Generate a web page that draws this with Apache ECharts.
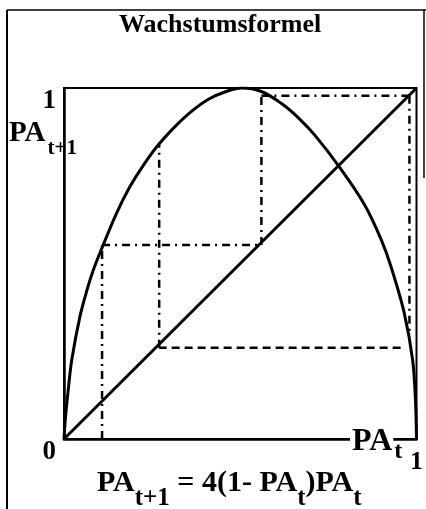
<!DOCTYPE html>
<html>
<head>
<meta charset="utf-8">
<script src="https://cdn.jsdelivr.net/npm/echarts@6/dist/echarts.min.js"></script>
<style>
html,body{margin:0;padding:0;background:#fff;}
#c{width:426px;height:509px;}
</style>
</head>
<body>
<div id="c"></div>
<script>
// ---- data ----
const titleText = 'Wachstumsformel';
const xTicks = [1];
const xTickLabels = ['1'];
const yTicks = [0, 1];
const yTickLabels = ['0', '1'];

// growth curve PA(t+1) vs PA(t)
const curveX = [0, 0.004, 0.012, 0.022, 0.045, 0.068, 0.083, 0.106, 0.148, 0.186, 0.226, 0.266, 0.31, 0.36, 0.41, 0.46, 0.504, 0.56, 0.618, 0.665, 0.712, 0.782, 0.853, 0.899, 0.928, 0.965, 0.989, 0.997, 1.0];
const curveY = [0, 0.06, 0.14, 0.225, 0.348, 0.434, 0.481, 0.54, 0.641, 0.717, 0.781, 0.836, 0.885, 0.932, 0.968, 0.99, 1.0, 0.99, 0.955, 0.915, 0.865, 0.774, 0.667, 0.57, 0.49, 0.36, 0.225, 0.111, 0];

// diagonal PA(t+1) = PA(t)
const diagX = [0, 1];
const diagY = [0, 1];

// cobweb iteration steps
const stepA = [[0.108, 0], [0.108, 0.553]];
const stepB = [[0.108, 0.553], [0.56, 0.553]];
const stepC = [[0.56, 0.553], [0.56, 0.978]];
const stepD = [[0.56, 0.978], [0.98, 0.978]];
const stepE = [[0.98, 0.978], [0.98, 0.30]];
const stepF = [[0.955, 0.26], [0.27, 0.26]];
const stepG = [[0.27, 0.26], [0.27, 0.838]];

// ---- chart ----
const serif = '"Liberation Serif", "Times New Roman", serif';
const chart = echarts.init(document.getElementById('c'), null, {renderer: 'canvas'});

const dashDot = [8, 5, 2, 5];
const dashed = [8, 5];
function seg(pts, dash) {
  return {
    type: 'line', data: pts, symbol: 'none', silent: true,
    lineStyle: {color: '#000', width: 2.5, type: dash}, z: 3
  };
}

const option = {
  animation: false,
  backgroundColor: '#fff',
  title: {
    text: titleText, left: 119, top: 12, padding: 0,
    textStyle: {fontFamily: serif, fontWeight: 'bold', fontSize: 26, color: '#000'}
  },
  grid: {left: 64, top: 88, width: 355, height: 351, show: true, borderColor: '#000', borderWidth: 2, backgroundColor: 'transparent'},
  xAxis: {
    type: 'value', min: 0, max: 1, interval: 1,
    axisLine: {show: true, lineStyle: {color: '#000', width: 2.5}},
    axisTick: {show: false}, splitLine: {show: false},
    axisLabel: {
      showMinLabel: true, showMaxLabel: true, margin: 10,
      fontFamily: serif, fontWeight: 'bold', fontSize: 26, color: '#000',
      formatter: v => { const i = xTicks.indexOf(v); return i >= 0 ? xTickLabels[i] : ''; }
    }
  },
  yAxis: {
    type: 'value', min: 0, max: 1, interval: 1,
    axisLine: {show: true, lineStyle: {color: '#000', width: 2.5}},
    axisTick: {show: false}, splitLine: {show: false},
    axisLabel: {
      showMinLabel: true, showMaxLabel: true, margin: 8, verticalAlign: 'top',
      fontFamily: serif, fontWeight: 'bold', fontSize: 27, color: '#000',
      formatter: v => { const i = yTicks.indexOf(v); return i >= 0 ? yTickLabels[i] : ''; }
    }
  },
  series: [
    {
      type: 'line', data: curveX.map((x, i) => [x, curveY[i]]), symbol: 'none',
      smooth: 0.35, lineStyle: {color: '#000', width: 3}, z: 4
    },
    {
      type: 'line', data: diagX.map((x, i) => [x, diagY[i]]), symbol: 'none',
      lineStyle: {color: '#000', width: 3}, z: 4
    },
    seg(stepA, dashDot),
    seg(stepB, dashDot),
    seg(stepC, dashDot),
    seg(stepD, dashDot),
    seg(stepE, dashDot),
    seg(stepF, dashed),
    seg(stepG, dashDot)
  ],
  graphic: [
    // outer frame
    {type: 'line', shape: {x1: 7, y1: 10, x2: 426, y2: 10}, style: {stroke: '#000', lineWidth: 1.5}, z: 50},
    {type: 'line', shape: {x1: 7, y1: 10, x2: 7, y2: 509}, style: {stroke: '#000', lineWidth: 2}, z: 50},
    {type: 'line', shape: {x1: 424, y1: 10, x2: 424, y2: 178}, style: {stroke: '#000', lineWidth: 1.5}, z: 50},
    // y axis name PA_{t+1}
    {
      type: 'text', x: 9, y: 119, z: 100,
      style: {
        text: '{a|PA}{s|t+1}', fill: '#000',
        rich: {
          a: {fontFamily: serif, fontWeight: 'bold', fontSize: 29, lineHeight: 29, verticalAlign: 'top'},
          s: {fontFamily: serif, fontWeight: 'bold', fontSize: 21, lineHeight: 21, verticalAlign: 'top', padding: [19, 0, 0, 2]}
        }
      }
    },
    // x axis name PA_t
    {
      type: 'text', x: 350, y: 426, z: 100,
      style: {
        text: '{a|PA}{s|t}', fill: '#000',
        rich: {
          a: {fontFamily: serif, fontWeight: 'bold', fontSize: 32, lineHeight: 32, verticalAlign: 'top', backgroundColor: '#fff', padding: [0, 1, 0, 2]},
          s: {fontFamily: serif, fontWeight: 'bold', fontSize: 24, lineHeight: 24, verticalAlign: 'top', padding: [14, 0, 0, 1]}
        }
      }
    },
    // formula
    {
      type: 'text', x: 97, y: 468, z: 100,
      style: {
        text: '{a|PA}{s|t+1}{a| = 4(1- PA}{s|t}{a|)PA}{s|t}', fill: '#000',
        rich: {
          a: {fontFamily: serif, fontWeight: 'bold', fontSize: 30, lineHeight: 30, verticalAlign: 'top'},
          s: {fontFamily: serif, fontWeight: 'bold', fontSize: 25, lineHeight: 25, verticalAlign: 'top', padding: [18, 0, 0, 0]}
        }
      }
    }
  ]
};
chart.setOption(option);
</script>
</body>
</html>
